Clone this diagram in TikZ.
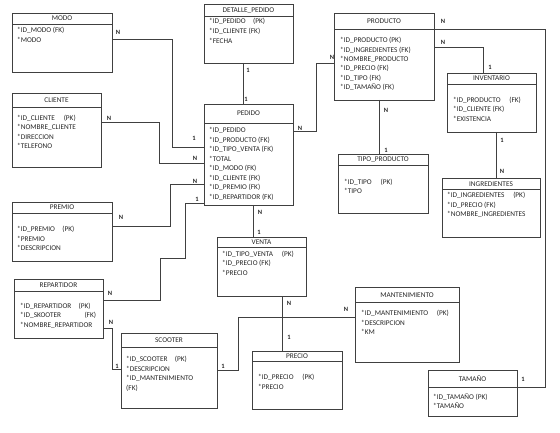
\documentclass[tikz,border=0pt]{standalone}
\usepackage{fontspec}
\setmainfont{Carlito}
\usetikzlibrary{fit}
\tikzset{
  box/.style={draw=black!75, line width=0.6pt, inner sep=0pt, outer sep=0pt},
  boxline/.style={draw=black!75, line width=0.6pt},
  ttl/.style={anchor=base, inner sep=0pt, font=\fontsize{7.3}{8}\selectfont, text=black!85},
  fieldst/.style={anchor=base west, inner sep=0pt, font=\fontsize{7.3}{8}\selectfont, text=black!85},
  conn/.style={draw=black!75, line width=0.6pt},
  card/.style={inner sep=0pt, font=\bfseries\fontsize{6.5}{7}\selectfont, text=black!85},
}
\newcommand\ent[7]{%
  \node[box, fit={(#2,#3)(#4,#5)}] (#1) {};
  \draw[boxline] (#2,#6) -- (#4,#6);
  \node[ttl] (#1-t) at ({(#2+#4)/2},{(#3+#6)/2+2.5}) {#7};
}
\newcommand\fld[4]{\node[fieldst] (#1) at (#2,{#3+2.5}) {#4};}
\begin{document}
\begin{tikzpicture}[x=1pt,y=-1pt]
\useasboundingbox (0,0) rectangle (560,433);
% entities
\ent{modo}{12}{13}{112}{72}{24}{MODO}
\fld{modo1}{17}{30}{*ID\_MODO (FK)}
\fld{modo2}{17}{40}{*MODO}

\ent{cliente}{12}{93}{101}{167}{107}{CLIENTE}
\fld{cli1}{17}{118}{*ID\_CLIENTE\hspace{1.2em}(PK)}
\fld{cli2}{17}{127}{*NOMBRE\_CLIENTE}
\fld{cli3}{17}{137}{*DIRECCION}
\fld{cli4}{17}{146}{*TELEFONO}

\ent{premio}{12}{202}{112}{261}{213}{PREMIO}
\fld{pre1}{17}{229}{*ID\_PREMIO\hspace{1em}(PK)}
\fld{pre2}{17}{239}{*PREMIO}
\fld{pre3}{17}{248}{*DESCRIPCION}

\ent{repartidor}{14}{279}{103}{338}{291}{REPARTIDOR}
\fld{rep1}{20}{306}{*ID\_REPARTIDOR\hspace{1em}(PK)}
\fld{rep2}{20}{315}{*ID\_SKOOTER\hspace{3.2em}(FK)}
\fld{rep3}{20}{325}{*NOMBRE\_REPARTIDOR}

\ent{scooter}{121}{333}{217}{408}{347}{SCOOTER}
\fld{sco1}{126}{359}{*ID\_SCOOTER\hspace{1em}(PK)}
\fld{sco2}{126}{369}{*DESCRIPCION}
\fld{sco3}{126}{378}{*ID\_MANTENIMIENTO}
\fld{sco4}{126}{388}{(FK)}

\ent{detalle}{204}{4}{293}{63}{16}{DETALLE\_PEDIDO}
\fld{det1}{209}{21}{*ID\_PEDIDO\hspace{1em}(PK)}
\fld{det2}{209}{31}{*ID\_CLIENTE (FK)}
\fld{det3}{209}{41}{*FECHA}

\ent{pedido}{204}{104}{293}{205}{123}{PEDIDO}
\fld{ped1}{209}{130}{*ID\_PEDIDO}
\fld{ped2}{209}{140}{*ID\_PRODUCTO (FK)}
\fld{ped3}{209}{149}{*ID\_TIPO\_VENTA (FK)}
\fld{ped4}{209}{159}{*TOTAL}
\fld{ped5}{209}{168}{*ID\_MODO (FK)}
\fld{ped6}{209}{178}{*ID\_CLIENTE (FK)}
\fld{ped7}{209}{187}{*ID\_PREMIO (FK)}
\fld{ped8}{209}{197}{*ID\_REPARTIDOR (FK)}

\ent{venta}{217}{237}{306}{296}{247}{VENTA}
\fld{ven1}{222}{254}{*ID\_TIPO\_VENTA\hspace{1.2em}(PK)}
\fld{ven2}{222}{263}{*ID\_PRECIO (FK)}
\fld{ven3}{222}{273}{*PRECIO}

\ent{precio}{252}{351}{342}{409}{361}{PRECIO}
\fld{prc1}{258}{377}{*ID\_PRECIO\hspace{1.2em}(PK)}
\fld{prc2}{258}{387}{*PRECIO}

\ent{producto}{334}{13}{434}{100}{29}{PRODUCTO}
\fld{pro1}{340}{40}{*ID\_PRODUCTO (PK)}
\fld{pro2}{340}{50}{*ID\_INGREDIENTES (FK)}
\fld{pro3}{340}{59}{*NOMBRE\_PRODUCTO}
\fld{pro4}{340}{68}{*ID\_PRECIO (FK)}
\fld{pro5}{340}{78}{*ID\_TIPO (FK)}
\fld{pro6}{340}{87}{*ID\_TAMAÑO (FK)}

\ent{tipo}{338}{154}{428}{213}{165}{TIPO\_PRODUCTO}
\fld{tip1}{344}{182}{*ID\_TIPO\hspace{1.2em}(PK)}
\fld{tip2}{344}{191}{*TIPO}

\ent{inventario}{447}{73}{536}{132}{84}{INVENTARIO}
\fld{inv1}{453}{100}{*ID\_PRODUCTO\hspace{1.2em}(FK)}
\fld{inv2}{453}{109}{*ID\_CLIENTE (FK)}
\fld{inv3}{453}{119}{*EXISTENCIA}

\ent{ingredientes}{442}{178}{540}{237}{189}{INGREDIENTES}
\fld{ing1}{447}{195}{*ID\_INGREDIENTES\hspace{1.2em}(PK)}
\fld{ing2}{447}{205}{*ID\_PRECIO (FK)}
\fld{ing3}{447}{214}{*NOMBRE\_INGREDIENTES}

\ent{mant}{355}{287}{459}{362}{302}{MANTENIMIENTO}
\fld{man1}{361}{313}{*ID\_MANTENIMIENTO\hspace{1.2em}(PK)}
\fld{man2}{361}{323}{*DESCRIPCION}
\fld{man3}{361}{332}{*KM}

\ent{tamano}{428}{370}{517}{416}{387}{TAMAÑO}
\fld{tam1}{433}{397}{*ID\_TAMAÑO (PK)}
\fld{tam2}{433}{406}{*TAMAÑO}

% connectors
\draw[conn] (modo.east |- 0,39) -| (172,147) -- (pedido.west |- 0,147);
\draw[conn] (cliente.east |- 0,122) -| (159,163) -- (pedido.west |- 0,163);
\draw[conn] (premio.east |- 0,226) -| (170,184) -- (pedido.west |- 0,184);
\draw[conn] (repartidor.east |- 0,300) -| (160,258) -| (185,203) -- (pedido.west |- 0,203);
\draw[conn] (repartidor.east |- 0,328) -| (112,369) -- (scooter.west |- 0,369);
\draw[conn] (scooter.east |- 0,370) -| (238,317) -- (mant.west |- 0,317);
\draw[conn] (venta.south -| 282,0) -- (precio.north -| 282,0);
\draw[conn] (pedido.south -| 253,0) -- (venta.north -| 253,0);
\draw[conn] (detalle.south -| 243,0) -- (pedido.north -| 243,0);
\draw[conn] (pedido.east |- 0,131) -| (316,63) -- (producto.west |- 0,63);
\draw[conn] (producto.south -| 379,0) -- (tipo.north -| 379,0);
\draw[conn] (producto.east |- 0,47) -| (inventario.north -| 483,0);
\draw[conn] (producto.east |- 0,29) -| (545,387) -- (tamano.east |- 0,387);
\draw[conn] (inventario.south -| 496,0) -- (ingredientes.north -| 496,0);

% cardinalities
\node[card] (c1) at (118,32) {N};
\node[card] (c2) at (194,138) {1};
\node[card] (c3) at (109,118) {N};
\node[card] (c4) at (195,158) {N};
\node[card] (c5) at (121,217) {N};
\node[card] (c6) at (195,181) {N};
\node[card] (c7) at (110,293) {N};
\node[card] (c8) at (197,199) {1};
\node[card] (c9) at (111,322) {N};
\node[card] (c10) at (117,366) {1};
\node[card] (c11) at (223,366) {1};
\node[card] (c12) at (346,309) {N};
\node[card] (c13) at (289,303) {N};
\node[card] (c14) at (289,337) {1};
\node[card] (c15) at (260,212) {N};
\node[card] (c16) at (259,232) {1};
\node[card] (c17) at (300,128) {N};
\node[card] (c18) at (332,57) {N};
\node[card] (c19) at (248,70) {1};
\node[card] (c20) at (246,99) {1};
\node[card] (c21) at (443,21) {N};
\node[card] (c22) at (443,42) {N};
\node[card] (c23) at (490,67) {1};
\node[card] (c24) at (386,110) {N};
\node[card] (c25) at (386,150) {1};
\node[card] (c26) at (502,140) {1};
\node[card] (c27) at (502,171) {N};
\node[card] (c28) at (523,379) {1};
\end{tikzpicture}
\end{document}
